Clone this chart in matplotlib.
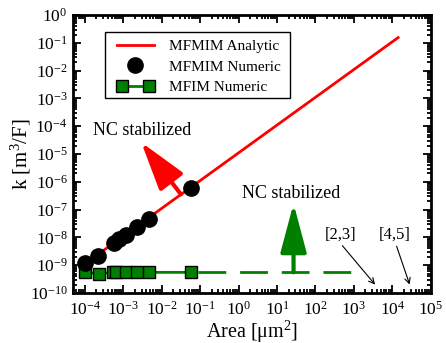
import matplotlib
matplotlib.use("Agg")
import matplotlib.pyplot as plt
from matplotlib.legend_handler import HandlerLine2D
from matplotlib.patches import Rectangle
from matplotlib.ticker import LogLocator, LogFormatterMathtext, NullFormatter

plt.rcParams['font.family'] = ['Liberation Serif', 'DejaVu Serif']
plt.rcParams['mathtext.fontset'] = 'custom'
plt.rcParams['mathtext.rm'] = 'Liberation Serif'
plt.rcParams['mathtext.it'] = 'Liberation Serif:italic'
plt.rcParams['mathtext.bf'] = 'Liberation Serif:bold'

# Data
area_analytic = [1.0e-4, 1.41e4]
k_analytic = [1.1e-9, 1.55e-1]

area_mfmim = [1.0e-4, 2.2e-4, 5.9e-4, 7.9e-4, 1.17e-3, 2.35e-3, 4.7e-3, 5.8e-2]
k_mfmim = [1.23e-9, 2.2e-9, 6.3e-9, 8.9e-9, 1.23e-8, 2.35e-8, 4.6e-8, 5.9e-7]

area_mfim = [1.0e-4, 2.3e-4, 5.4e-4, 6.6e-4, 1.17e-3, 2.35e-3, 4.7e-3, 5.8e-2]
k_mfim = [5.5e-10, 4.9e-10, 5.5e-10, 5.5e-10, 5.5e-10, 5.5e-10, 5.5e-10, 5.5e-10]

area_mfim_ext = [5.8e-2, 1.0e3]
k_mfim_ext = [5.5e-10, 5.5e-10]

fig = plt.figure(figsize=(4.46, 3.43), dpi=100)
ax = fig.add_axes([0.164, 0.146, 0.802, 0.81])

red = '#ff0000'
green = '#008000'

l1, = ax.plot(area_analytic, k_analytic, color=red, lw=2, zorder=2, label='MFMIM Analytic')
ax.plot(area_mfim_ext, k_mfim_ext, color=green, lw=2, ls=(12.5, (10, 5)), zorder=2)
l3, = ax.plot(area_mfim, k_mfim, color=green, lw=2, marker='s', ms=9,
              mfc=green, mec='black', mew=1, zorder=3, label='MFIM Numeric')
l2, = ax.plot(area_mfmim, k_mfmim, ls='none', marker='o', ms=11,
              color='black', zorder=4, label='MFMIM Numeric')

ax.set_xscale('log')
ax.set_yscale('log')
ax.set_xlim(5e-5, 1e5)
ax.set_ylim(1e-10, 1e0)

ax.xaxis.set_major_locator(LogLocator(base=10, numticks=20))
ax.yaxis.set_major_locator(LogLocator(base=10, numticks=20))
ax.xaxis.set_minor_locator(LogLocator(base=10, subs=range(2, 10), numticks=20))
ax.yaxis.set_minor_locator(LogLocator(base=10, subs=range(2, 10), numticks=20))
ax.xaxis.set_major_formatter(LogFormatterMathtext())
ax.yaxis.set_major_formatter(LogFormatterMathtext())
ax.xaxis.set_minor_formatter(NullFormatter())
ax.yaxis.set_minor_formatter(NullFormatter())

ax.tick_params(which='both', direction='in', top=True, right=True, labelsize=12.5, width=1.3)
ax.tick_params(which='major', length=6)
ax.tick_params(axis='x', which='major', pad=6)
ax.tick_params(axis='y', which='major', pad=4)
ax.tick_params(which='minor', length=3)
for s in ax.spines.values():
    s.set_linewidth(2)

ax.set_xlabel('Area [$\\mathrm{\\mu m^2}$]', fontsize=14.5)
ax.set_ylabel('k [m$^3$/F]', fontsize=15)
ax.xaxis.set_label_coords(0.5, -0.093)
ax.yaxis.set_label_coords(-0.112, 0.5)

# Legend box and entries
ax.add_patch(Rectangle((0.0894, 0.701), 0.517, 0.238, transform=ax.transAxes,
                       facecolor='white', edgecolor='black', lw=1, zorder=5))
leg = ax.legend(handles=[l1, l2, l3], loc='upper left', bbox_to_anchor=(0.123, 0.912),
                fontsize=11, frameon=False, borderaxespad=0, borderpad=0,
                handlelength=2.4, handletextpad=1.0, labelspacing=0.45,
                handler_map={l3: HandlerLine2D(numpoints=2), l2: HandlerLine2D(numpoints=1)})
leg.set_zorder(6)

# Red arrow
ax.annotate('', xy=(10**-2.53, 10**-4.58), xytext=(10**-1.5, 10**-6.45),
            arrowprops=dict(arrowstyle='-|>,head_length=1.5,head_width=0.45', lw=3,
                            color=red, mutation_scale=20, shrinkA=0, shrinkB=0))
ax.text(10**-2.5, 10**-4.16, 'NC stabilized', fontsize=13, ha='center', va='center')

# Green arrow
ax.annotate('', xy=(10**1.43, 10**-6.78), xytext=(10**1.43, 10**-9.26),
            arrowprops=dict(arrowstyle='-|>,head_length=1.5,head_width=0.4', lw=3,
                            color=green, mutation_scale=20, shrinkA=0, shrinkB=0))
ax.text(10**1.38, 10**-6.41, 'NC stabilized', fontsize=13, ha='center', va='center')

# Reference labels
ax.text(10**2.65, 10**-7.9, '[2,3]', fontsize=12, ha='center', va='center')
ax.annotate('', xy=(10**3.55, 10**-9.7), xytext=(10**2.7, 10**-8.3),
            arrowprops=dict(arrowstyle='->', lw=0.8, color='black', shrinkA=0, shrinkB=0))
ax.text(10**4.07, 10**-7.9, '[4,5]', fontsize=12, ha='center', va='center')
ax.annotate('', xy=(10**4.45, 10**-9.7), xytext=(10**4.11, 10**-8.32),
            arrowprops=dict(arrowstyle='->', lw=0.8, color='black', shrinkA=0, shrinkB=0))

fig.savefig('out.png', dpi=100)
